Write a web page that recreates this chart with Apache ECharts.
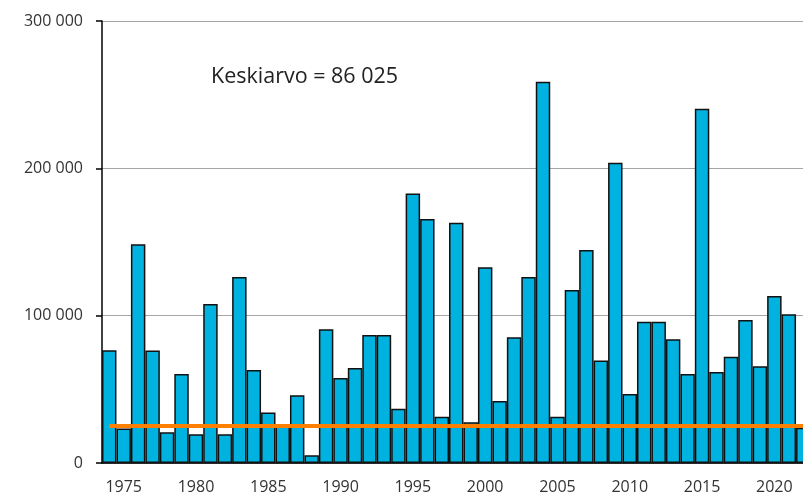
<!DOCTYPE html>
<html>
<head>
<meta charset="utf-8">
<script src="https://cdn.jsdelivr.net/npm/echarts@6/dist/echarts.min.js"></script>
<style>
html,body{margin:0;padding:0;background:#fff;overflow:hidden;width:803px;height:497px;}
#chart{width:811px;height:497px;}
</style>
</head>
<body>
<div id="chart"></div>
<script>
const years = [];
for (let y = 1974; y <= 2022; y++) years.push(String(y));
const values = [
  76500, 23500, 148500, 76300, 20800, 60400, 19500, 107900, 19500, 126200,
  63100, 34200, 25000, 46000, 5200, 90700, 57700, 64500, 86900, 86900,
  36900, 183000, 165600, 31400, 163100, 27600, 132800, 42100, 85300, 126200,
  258800, 31400, 117400, 144600, 69500, 203800, 46800, 95900, 95900, 84000,
  60400, 240500, 61800, 72200, 97000, 65600, 113400, 101000, 24000
];
const yTicks = [0, 100000, 200000, 300000];
const lineValue = 25400;
const annotation = 'Keskiarvo = 86 025';

const chart = echarts.init(document.getElementById('chart'));
chart.setOption({
  animation: false,
  backgroundColor: '#fff',
  grid: { left: 102, top: 21, height: 442, right: 0.5 },
  xAxis: {
    type: 'category',
    data: years,
    boundaryGap: true,
    axisLine: { show: true, lineStyle: { color: '#000', width: 1.5 } },
    axisTick: { show: false },
    axisLabel: {
      interval: (idx, val) => Number(val) % 5 === 0,
      color: '#333', fontSize: 16, fontFamily: 'Open Sans', margin: 16
    }
  },
  yAxis: {
    type: 'value',
    min: yTicks[0], max: yTicks[yTicks.length - 1], interval: 100000,
    axisLine: { show: true, lineStyle: { color: '#000', width: 1.5 } },
    axisTick: { show: true, length: 6, lineStyle: { color: '#000', width: 1.5 } },
    splitLine: { show: true, lineStyle: { color: '#a6a6a6', width: 1.2 } },
    axisLabel: {
      color: '#333', fontSize: 16, fontFamily: 'Open Sans', margin: 19,
      formatter: v => String(v).replace(/\B(?=(\d{3})+(?!\d))/g, ' ')
    }
  },
  series: [{
    type: 'bar',
    data: values,
    barCategoryGap: '0%',
    itemStyle: { color: '#00b2e0', borderColor: '#111', borderWidth: 1.5 },
    markLine: {
      silent: true,
      symbol: ['none', 'none'],
      label: { show: false },
      lineStyle: { color: '#ff7f00', width: 4, type: 'solid' },
      data: [[
        { coord: [years[0], lineValue] },
        { coord: [years[years.length - 1], lineValue] }
      ]]
    }
  }],
  graphic: [{
    type: 'text',
    left: 211, top: 66,
    style: { text: annotation, fill: '#222', font: '21.5px "Open Sans"' }
  }]
});
</script>
</body>
</html>
